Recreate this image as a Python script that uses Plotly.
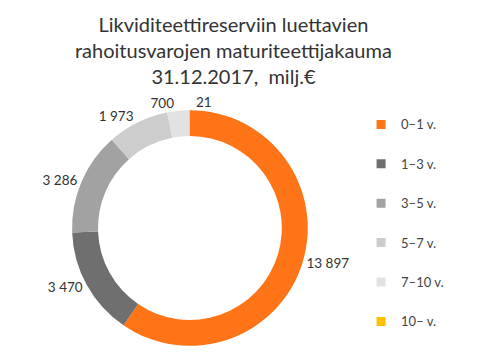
import plotly.graph_objects as go

categories = ["0–1 v.", "1–3 v.", "3–5 v.", "5–7 v.", "7–10 v.", "10– v."]
values = [13897, 3470, 3286, 1973, 700, 21]
colors = ["#FF7417", "#6F6F6F", "#A2A2A2", "#CDCDCD", "#E2E2E2", "#FFC000"]
title_text = "Likviditeettireserviin luettavien<br>rahoitusvarojen maturiteettijakauma<br>31.12.2017,  milj.€"

def fmt(v):
    return f"{v:,}".replace(",", " ")

texts = [fmt(v) for v in values]
# which label layer each slice's value label is drawn in (avoids plotly label scooting)
label_layer = [0, 0, 0, 0, 1, 2]
layer_rotation = [0, 0, 1.2]
dom = dict(x=[0.130, 0.617], y=[0.051, 0.713])

fig = go.Figure()
for layer, rot in enumerate(layer_rotation):
    fig.add_trace(go.Pie(
        labels=categories, values=values, text=texts,
        textinfo="text",
        textposition=["outside" if l == layer else "none" for l in label_layer],
        sort=False, direction="clockwise", rotation=rot,
        hoverinfo=None if layer == 0 else "skip",
        hole=0.78,
        marker=dict(colors=colors if layer == 0 else ["rgba(0,0,0,0)"] * len(values),
                    line=dict(width=0)),
        textfont=dict(family="Lato", size=13.5, color="#333333"),
        showlegend=False, domain=dom,
    ))
for c, col in zip(categories, colors):
    fig.add_trace(go.Scatter(
        x=[None], y=[None], mode="markers", name=c, legendgroup=c,
        marker=dict(symbol="square", size=9, color=col),
    ))
fig.update_layout(
    width=487, height=356, margin=dict(l=0, r=0, t=0, b=0),
    paper_bgcolor="white", plot_bgcolor="white",
    xaxis=dict(visible=False), yaxis=dict(visible=False),
    legend=dict(x=0.725, y=0.715, xanchor="left", yanchor="top", tracegroupgap=19.5,
                font=dict(family="Lato", size=13, color="#444444"), itemwidth=30),
    annotations=[dict(text=title_text, x=0.464, xref="paper", xanchor="center",
                      y=0.995, yref="paper", yanchor="top", showarrow=False,
                      font=dict(family="Lato", size=20, color="#333333"))],
)
fig.write_html("out.html")
